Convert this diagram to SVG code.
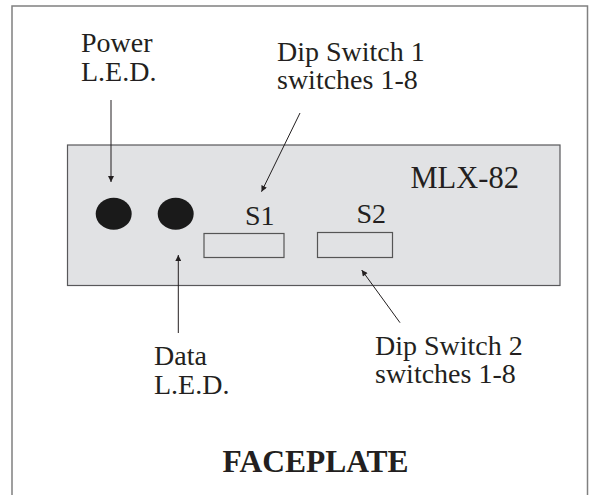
<svg xmlns="http://www.w3.org/2000/svg" width="589" height="495" viewBox="0 0 589 495">
<style>
text{font-family:"Liberation Serif","Times New Roman",serif;fill:#231f20;font-size:28px}
.b{font-weight:bold;font-size:31.5px}
.m{font-size:30.5px}
.conn line{stroke:#231f20;stroke-width:1}
.sw{fill:none;stroke:#555;stroke-width:1.2}
</style>
<defs>
<marker id="ah" viewBox="0 0 10 10" refX="10" refY="5" markerWidth="7" markerHeight="6" markerUnits="userSpaceOnUse" orient="auto">
<path d="M0,0 L10,5 L0,10 Z" fill="#231f20"/>
</marker>
</defs>
<rect x="12" y="6" width="575.5" height="500" fill="#fff" stroke="#808080" stroke-width="1.5"/>
<g id="panel">
<rect x="67.5" y="145" width="492.5" height="140.5" fill="#e1e2e4" stroke="#58585a" stroke-width="1.2"/>
<text class="m" x="410.5" y="188">MLX-82</text>
</g>
<g id="power-led"><ellipse cx="113.7" cy="213.8" rx="18" ry="16" fill="#1a1a1a"/></g>
<g id="data-led"><ellipse cx="175.7" cy="213.8" rx="18" ry="16" fill="#1a1a1a"/></g>
<g id="s1">
<rect class="sw" x="204" y="233.5" width="80" height="24"/>
<text x="245" y="225">S1</text>
</g>
<g id="s2">
<rect class="sw" x="317.5" y="232.5" width="75" height="25"/>
<text x="356.5" y="223">S2</text>
</g>
<g id="power-label">
<text x="81" y="52">Power</text>
<text x="81" y="81">L.E.D.</text>
</g>
<g id="dip1-label">
<text x="277" y="60.5">Dip Switch 1</text>
<text x="277" y="88.5">switches 1-8</text>
</g>
<g id="data-label">
<text x="154" y="365">Data</text>
<text x="154" y="394">L.E.D.</text>
</g>
<g id="dip2-label">
<text x="375" y="355">Dip Switch 2</text>
<text x="375" y="383">switches 1-8</text>
</g>
<g id="title"><text class="b" x="222.5" y="471.5">FACEPLATE</text></g>
<g class="conn" id="connectors">
<line x1="111" y1="100" x2="111" y2="182" marker-end="url(#ah)"/>
<line x1="300" y1="113" x2="261.5" y2="191.7" marker-end="url(#ah)"/>
<line x1="178.3" y1="333" x2="178.3" y2="255" marker-end="url(#ah)"/>
<line x1="400" y1="322.7" x2="361.7" y2="270" marker-end="url(#ah)"/>
</g>
</svg>
